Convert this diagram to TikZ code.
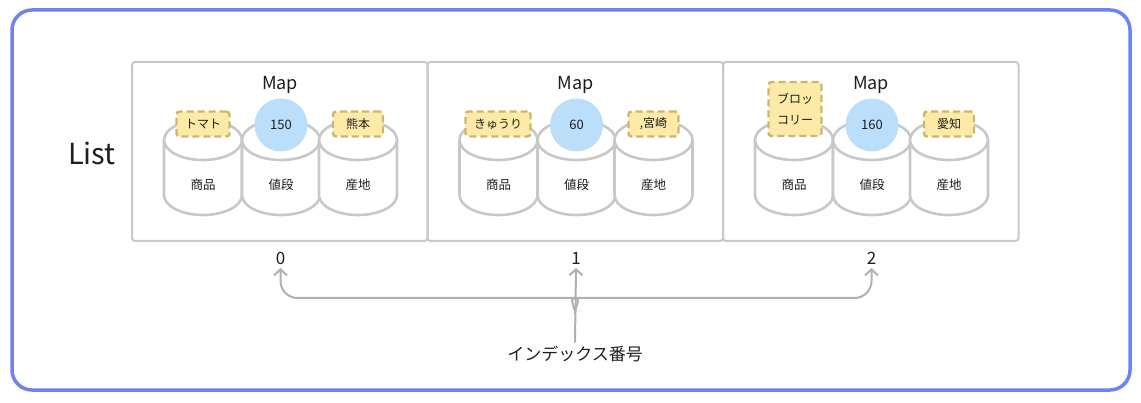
\documentclass[tikz,border=0pt]{standalone}
\usepackage{fontspec}
\setmainfont{Noto Sans CJK JP}
\usepackage{tikz}
\usetikzlibrary{arrows.meta}
\definecolor{frameblue}{RGB}{110,130,240}
\definecolor{boxgray}{RGB}{200,200,200}
\definecolor{tagfill}{RGB}{252,234,166}
\definecolor{tagline}{RGB}{204,183,112}
\definecolor{valfill}{RGB}{187,222,251}
\definecolor{arrgray}{RGB}{176,176,176}
\definecolor{ink}{RGB}{30,30,30}
\tikzset{
  outer/.style={draw=frameblue,line width=3.5pt,rounded corners=20pt},
  mapbox/.style={draw=boxgray,line width=2pt,rounded corners=3pt,
    minimum width=295.5pt,minimum height=179pt,inner sep=0pt},
  maptitle/.style={text=ink,font=\fontsize{18}{21}\selectfont},
  cyl/.style={draw=boxgray,fill=white,line width=2.6pt},
  cyllabel/.style={text=ink,font=\fontsize{12.5}{15}\selectfont},
  valnode/.style={circle,fill=valfill,minimum size=53pt,inner sep=0pt,
    text=ink,font=\fontsize{13}{15}\selectfont},
  tagnode/.style={draw=tagline,fill=tagfill,line width=2.4pt,
    dash pattern=on 7pt off 4pt,rounded corners=3pt,minimum width=50pt,
    minimum height=25pt,inner xsep=8.5pt,align=center,
    text=ink,font=\fontsize{12}{21}\selectfont},
  idx/.style={text=ink,inner sep=3pt,font=\fontsize{17}{20}\selectfont},
  arr/.style={draw=arrgray,line width=2pt,
    -{Straight Barb[length=6pt,width=13pt,line width=2pt]}},
}

\begin{document}
\begin{tikzpicture}[x=1pt,y=1pt]
\useasboundingbox (0,0) rectangle (1141,402);
\draw[outer] (12,12) rectangle (1130,392);
\node[text=ink,font=\fontsize{29}{33}\selectfont] (list) at (92,249) {List};
\foreach \i/\price/\origin in {0/150/熊本, 1/60/{,宮崎}, 2/160/愛知}
{
  \pgfmathsetmacro\xo{132+295.5*\i}
  \node[mapbox] (map\i) at (\xo+147.75,250.5) {};
  \node[maptitle] (title\i) at (\xo+148,317) {Map};
  \foreach \c/\lab [count=\k] in {71/商品,149/値段,226/産地}
  {
    \pgfmathsetmacro\cx{\xo+\c}
    \filldraw[cyl] ({\cx-39},262) -- ({\cx-39},207)
      arc[start angle=180,end angle=360,x radius=39,y radius=20]
      -- ({\cx+39},262)
      arc[start angle=0,end angle=180,x radius=39,y radius=20] -- cycle;
    \draw[cyl] ({\cx-39},262)
      arc[start angle=180,end angle=360,x radius=39,y radius=20];
    \node[cyllabel] (cyl\i-\k) at (\cx,217) {\lab};
  }
  \node[valnode] (price\i) at (\xo+149,277) {\price};
  \node[tagnode] (origin\i) at (\xo+226,278) {\origin};
  \node[idx,anchor=south] (idx\i) at (\xo+148.5,134) {\i};
}
\node[tagnode] (prod0) at (203,278) {トマト};
\node[tagnode] (prod1) at (498,278) {きゅうり};
\node[tagnode,minimum height=54pt,inner ysep=2pt] (prod2) at (795,293) {ブロッ\\コリー};
% index arrows
\node[text=ink,font=\fontsize{17}{20}\selectfont] (idxlabel) at (575,48) {インデックス番号};
\coordinate (junc) at (575,88);
\draw[arr] (idxlabel.north) -- (idx1.south);
\draw[arr,rounded corners=17pt] (junc) to[out=90,in=0] ++(-16,16) -| (idx0.south);
\draw[arr,rounded corners=17pt] (junc) to[out=90,in=180] ++(16,16) -| (idx2.south);
\end{tikzpicture}
\end{document}
